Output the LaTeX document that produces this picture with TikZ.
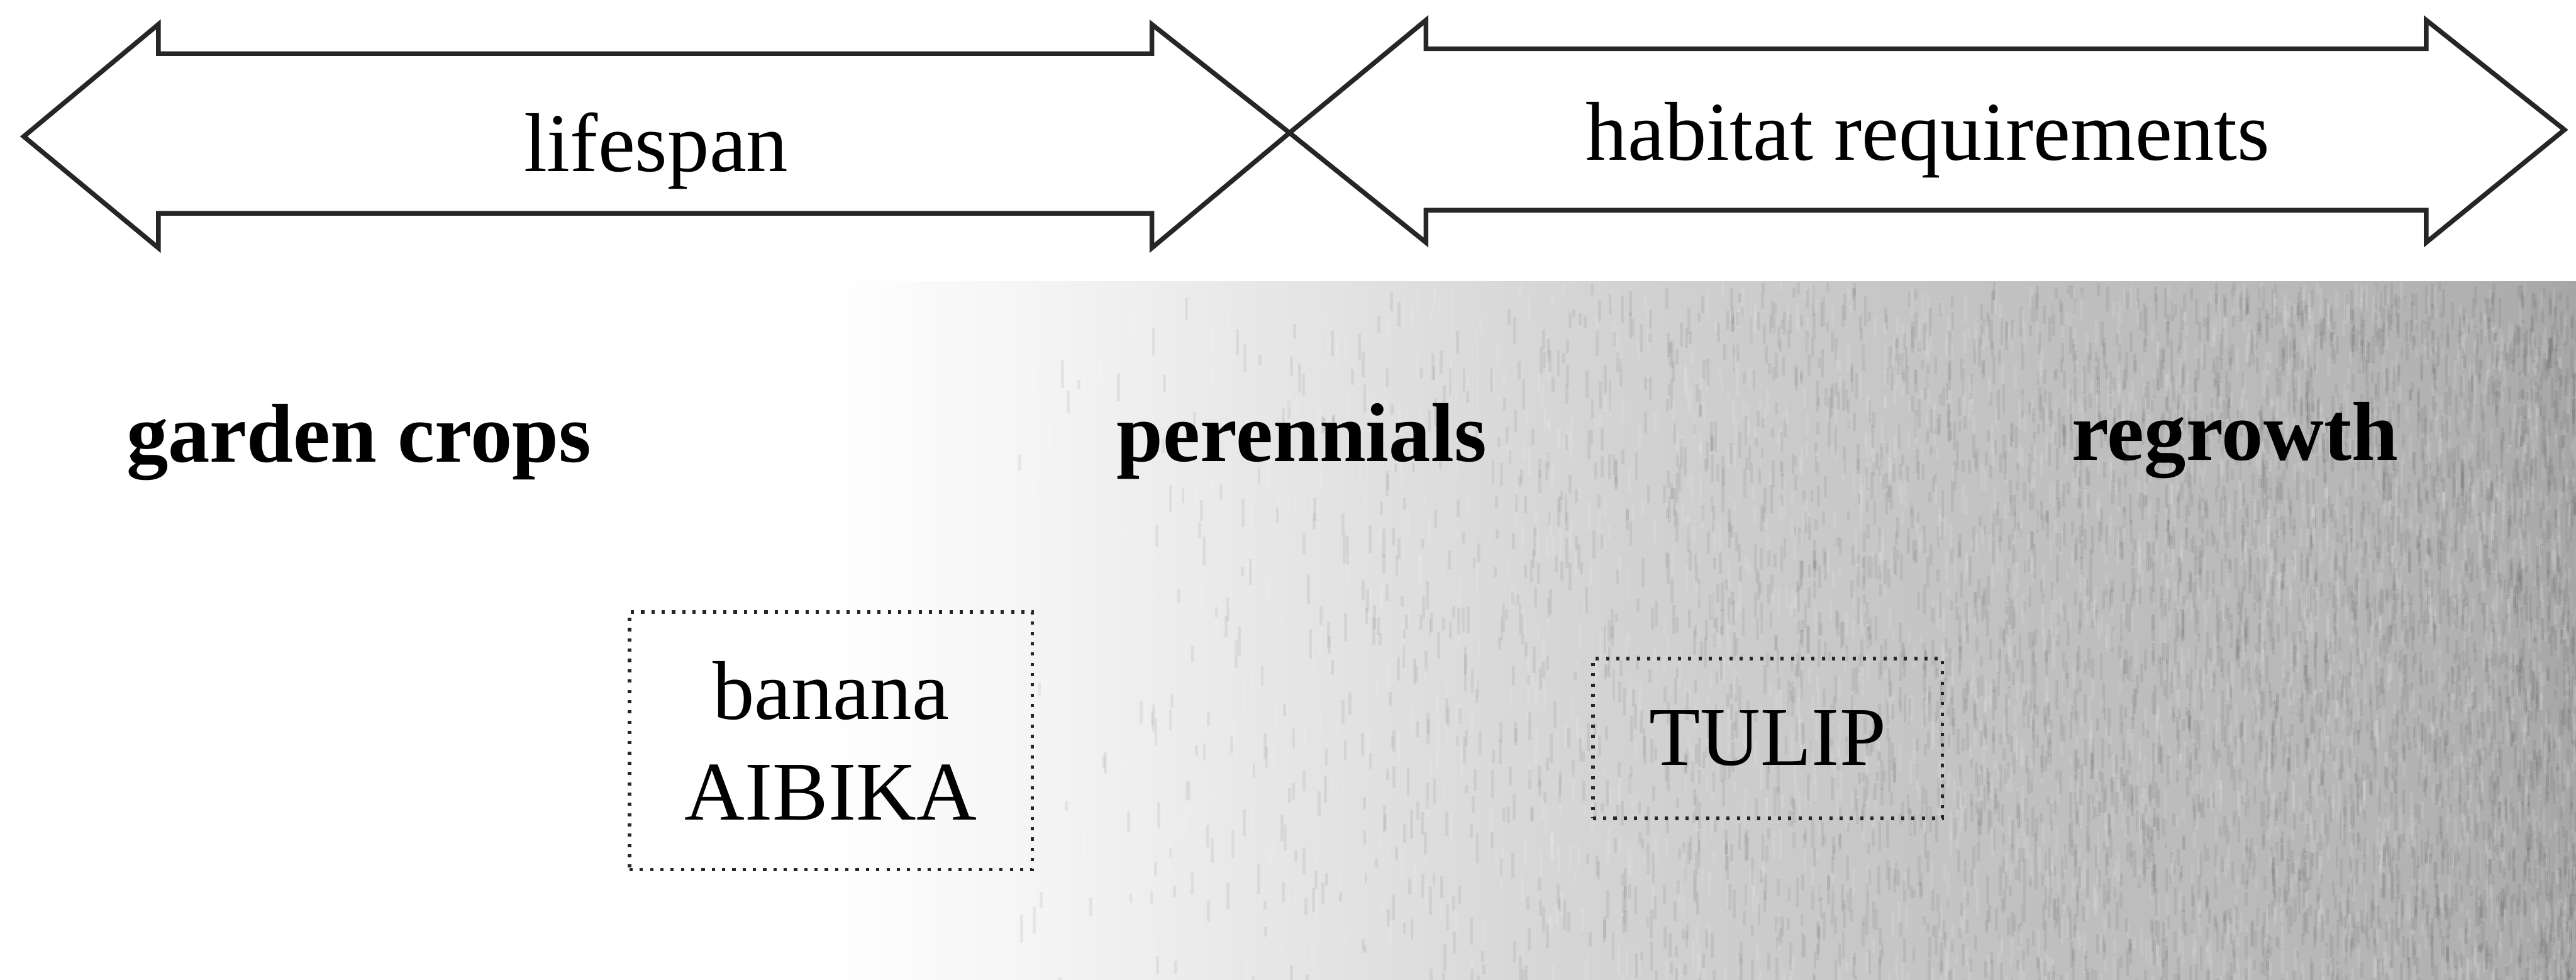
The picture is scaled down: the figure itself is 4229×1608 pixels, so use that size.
\documentclass[tikz,border=0pt]{standalone}
\usepackage{fontspec}
\setmainfont{Liberation Serif}
% left-to-right grey field behind the three categories
\pgfdeclarehorizontalshading{fieldshade}{100bp}{%
  color(0bp)=(white); color(25bp)=(white); color(41bp)=(white);
  color(45bp)=(black!4); color(50bp)=(black!10); color(55bp)=(black!16);
  color(60bp)=(black!21); color(65bp)=(black!25); color(70bp)=(black!28);
  color(73bp)=(black!31); color(75bp)=(black!35); color(100bp)=(black!35)}
\begin{document}
\begin{tikzpicture}[x=0.1mm, y=-0.1mm,
  band/.style={draw=black!85, line width=2.2pt, line join=miter, fill=white},
  bandtext/.style={font=\fontsize{39}{47}\selectfont, anchor=base, inner sep=0pt},
  heading/.style={font=\bfseries\fontsize{39}{47}\selectfont, anchor=base, inner sep=0pt},
  plantbox/.style={draw=black!85, line width=1.6pt, dash pattern=on 1.5pt off 3.3pt,
    align=center, font=\fontsize{39}{47}\selectfont, inner sep=0pt},
  grain/.style={fill=black, opacity=0.06},
  sheen/.style={fill=white, opacity=0.10}]
  \useasboundingbox[fill=white] (0,0) rectangle (4229,1608);

  % shaded field with a fine vertical grain that thickens towards the right
  \shade[shading=fieldshade] (0,462) rectangle (4229,1608);
  \begin{scope}
    \clip (0,462) rectangle (4229,1608);
    \pgfmathsetseed{11}
    \foreach \i in {1,...,4200}{
      \pgfmathsetmacro\gx{1550+2679*rnd^0.4}
      \pgfmathsetmacro\gy{462+1146*rnd}
      \pgfmathsetmacro\gl{14+36*rnd}
      \fill[grain] (\gx,\gy) rectangle ++(5,\gl);
    }
    \foreach \i in {1,...,2500}{
      \pgfmathsetmacro\gx{1550+2679*rnd^0.4}
      \pgfmathsetmacro\gy{462+1146*rnd}
      \pgfmathsetmacro\gl{14+36*rnd}
      \fill[sheen] (\gx,\gy) rectangle ++(5,\gl);
    }
  \end{scope}

  % two double-headed block arrows meeting tip to tip
  \draw[band] (39,224) -- (260,40) -- (260,88) -- (1891,88) -- (1891,40)
    -- (2117,218) -- (1891,407) -- (1891,350) -- (260,350) -- (260,407) -- cycle;
  \draw[band] (2117,218) -- (2341,33) -- (2341,80) -- (3983,80) -- (3983,33)
    -- (4210,213) -- (3983,398) -- (3983,345) -- (2341,345) -- (2341,398) -- cycle;

  \node[bandtext] (life) at (1077,281) {lifespan};
  \node[bandtext] (habitat) at (3165,263) {habitat requirements};

  % category headings
  \node[heading] (garden) at (589,758) {garden crops};
  \node[heading] (peren) at (2137,757) {perennials};
  \node[heading] (regrow) at (3669,755) {regrowth};

  % example plants
  \node[plantbox, minimum width=66.1mm, minimum height=42.3mm] (banana) at (1364,1216) {banana\\AIBIKA};
  \node[plantbox, minimum width=57.4mm, minimum height=26.2mm] (tulip) at (2902,1212) {TULIP};
\end{tikzpicture}
\end{document}
